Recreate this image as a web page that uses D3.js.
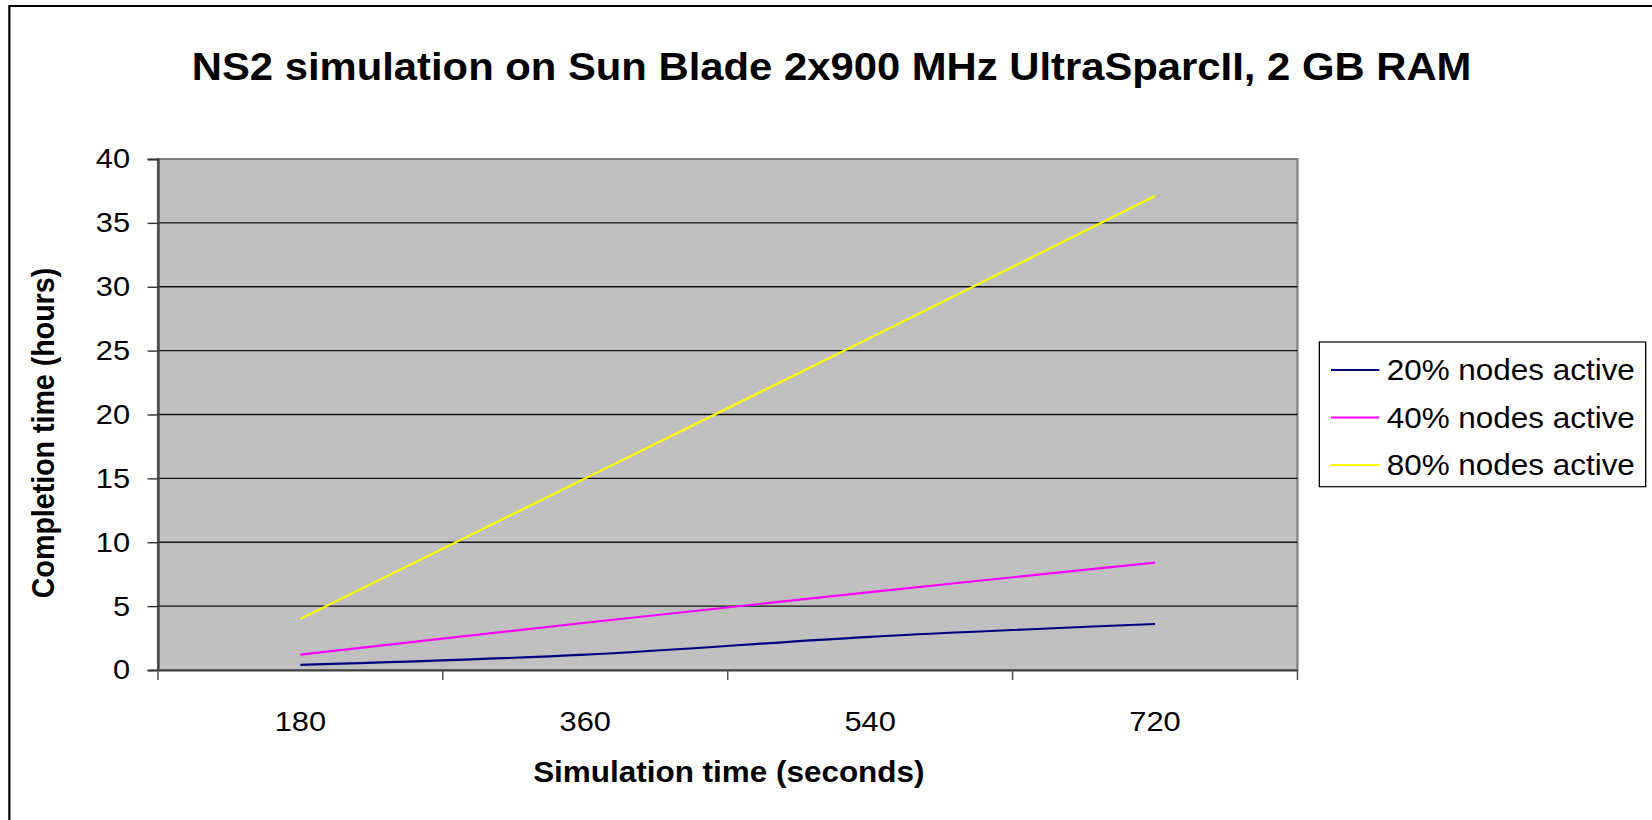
<!DOCTYPE html>
<html>
    <head>
        <title>NS2 simulation</title>
        <script src="https://d3js.org/d3.v7.min.js"></script>
        <style>
            body {
                margin: 0;
                background: white;
            }
            svg {
                display: block;
                font-family: "Liberation Sans", Arial, sans-serif;
            }
        </style>
    </head>
<body>
    <svg></svg>
    <script>
        //Chart data
        let categories = ["180", "360", "540", "720"]
        let series = ["20% nodes active", "40% nodes active", "80% nodes active"]
        let colors = ["#000080", "#ff00ff", "#ffff00"]
        let nodes20 = [0.4, 1.2, 2.6, 3.6]
        let nodes40 = [1.2, 3.7, 6.1, 8.4]
        let nodes80 = [4.0, 15.0, 26.0, 37.1]
        let yTicks = [0, 5, 10, 15, 20, 25, 30, 35, 40]

        let values = [nodes20, nodes40, nodes80]

        //The original picture is stretched a bit horizontally
        let stretch = 1.1
        let width = 1652 / stretch, height = 820

        let svg = d3.select("svg")
            .attr("width", 1652)
            .attr("height", 820)
            .attr("viewBox", "0 0 " + width + " " + height)
            .attr("preserveAspectRatio", "none")

        let margin = {left: 143.6, right: width - 1179.5, top: 159, bottom: 820 - 670}

        //Outer frame
        svg.append("rect")
            .attr("x", 8.5)
            .attr("y", 6)
            .attr("width", width + 20)
            .attr("height", height + 20)
            .attr("fill", "none")
            .attr("stroke", "black")
            .attr("stroke-width", 2)

        //Title
        svg.append("text")
            .attr("x", 756)
            .attr("y", 80)
            .attr("text-anchor", "middle")
            .style("font-size", "38px")
            .style("font-weight", "bold")
            .text("NS2 simulation on Sun Blade 2x900 MHz UltraSparcII, 2 GB RAM")

        //Scales
        let x = d3.scaleBand()
            .domain(categories)
            .range([margin.left, width - margin.right])

        let y = d3.scaleLinear()
            .domain([0, 40])
            .range([height - margin.bottom, margin.top])

        //Plot background
        svg.append("rect")
            .attr("x", margin.left)
            .attr("y", margin.top)
            .attr("width", width - margin.left - margin.right)
            .attr("height", height - margin.top - margin.bottom)
            .attr("fill", "#c0c0c0")
            .attr("stroke", "#808080")
            .attr("stroke-width", 2)

        //Gridlines
        svg.append("g")
            .selectAll("line")
            .data(yTicks.slice(1, -1))
            .enter()
            .append("line")
            .attr("x1", margin.left)
            .attr("x2", width - margin.right)
            .attr("y1", d => y(d))
            .attr("y2", d => y(d))
            .attr("stroke", "#111")
            .attr("stroke-width", 1.4)

        //Y axis
        let yAxis = svg.append("g")
            .attr("transform", "translate(" + margin.left + ",0)")
            .call(d3.axisLeft(y).tickValues(yTicks).tickSize(9.4).tickPadding(16))
        yAxis.selectAll("text").style("font-size", "28px").attr("fill", "black")
        yAxis.selectAll("line").attr("stroke", "#333").attr("stroke-width", 1.4)
        yAxis.select(".domain").attr("stroke", "#404040").attr("stroke-width", 2)

        //X axis, ticks between the categories
        let xAxis = svg.append("g")
            .attr("transform", "translate(0," + y(0) + ")")
            .call(d3.axisBottom(x).tickSize(0).tickPadding(41))
        xAxis.selectAll("text").style("font-size", "28px").attr("fill", "black")
        xAxis.select(".domain").attr("stroke", "#404040").attr("stroke-width", 2)

        xAxis.selectAll(".sep")
            .data(categories.concat([""]))
            .enter()
            .append("line")
            .attr("class", "sep")
            .attr("x1", (d, i) => margin.left + i * x.bandwidth())
            .attr("x2", (d, i) => margin.left + i * x.bandwidth())
            .attr("y1", 0)
            .attr("y2", 10)
            .attr("stroke", "#555")
            .attr("stroke-width", 1.4)

        //Axis titles
        svg.append("text")
            .attr("x", (margin.left + width - margin.right) / 2 + 1)
            .attr("y", 782)
            .attr("text-anchor", "middle")
            .style("font-size", "28.6px")
            .style("font-weight", "bold")
            .text("Simulation time (seconds)")

        svg.append("text")
            .attr("transform", "translate(49,433) rotate(-90)")
            .attr("text-anchor", "middle")
            .style("font-size", "28.6px")
            .style("font-weight", "bold")
            .text("Completion time (hours)")

        //Lines
        let line = d3.line()
            .x((d, i) => x(categories[i]) + x.bandwidth() / 2)
            .y(d => y(d))
            .curve(d3.curveCatmullRom.alpha(0))

        svg.append("g")
            .selectAll("path")
            .data(values)
            .enter()
            .append("path")
            .attr("d", line)
            .attr("fill", "none")
            .attr("stroke", (d, i) => colors[i])
            .attr("stroke-width", 2.2)

        //Legend
        let legend = svg.append("g")

        legend.append("rect")
            .attr("x", 1199.4)
            .attr("y", 342)
            .attr("width", 296.7)
            .attr("height", 144.7)
            .attr("fill", "white")
            .attr("stroke", "black")
            .attr("stroke-width", 1.2)

        let items = legend.selectAll(".item")
            .data(series)
            .enter()
            .append("g")
            .attr("class", "item")
            .attr("transform", (d, i) => "translate(0," + (370 + i * 47.5) + ")")

        items.append("line")
            .attr("x1", 1210)
            .attr("x2", 1254)
            .attr("stroke", (d, i) => colors[i])
            .attr("stroke-width", 2)

        items.append("text")
            .attr("x", 1260.6)
            .attr("dy", "0.35em")
            .style("font-size", "28.6px")
            .text(d => d)
    </script>
</body>
</html>
